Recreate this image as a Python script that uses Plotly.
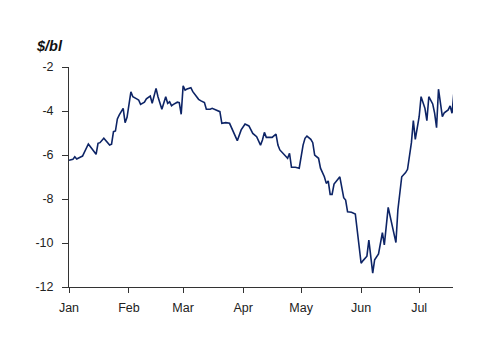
import pandas as pd
import plotly.graph_objects as go

# Day offsets from 1 Jan 2019 and values ($/bl)
day_offsets = [0, 2, 3, 4, 6, 7, 10, 12, 14, 15, 16, 18, 19, 21, 22, 23, 24, 25, 26, 28, 29, 30,
               32, 33, 35, 36, 37, 39, 40, 42, 43, 45, 46, 48, 50, 51, 52, 53, 54, 56, 57, 58,
               59, 60, 61, 63, 64, 65, 67, 68, 70, 71, 73, 74, 76, 78, 79, 81, 83, 85, 87, 89,
               91, 93, 95, 97, 99, 100, 101, 102, 105, 107, 108, 109, 111, 113, 114, 115, 117, 119,
               121, 122, 123, 125, 126, 127, 129, 130, 132, 133, 134, 135, 136, 137, 139, 140, 142,
               143, 144, 146, 148, 149, 151, 152, 154, 155, 156, 157, 158, 159, 160, 162, 163, 165,
               167, 169, 170, 171, 172, 174, 175, 177, 178, 179, 181, 182, 184, 185, 186, 188, 189,
               190, 191, 193, 194, 196, 197, 198, 199]
values = [-6.24, -6.2, -6.08, -6.18, -6.09, -6.05, -5.5, -5.73, -5.97, -5.47, -5.44, -5.24, -5.36,
          -5.55, -5.51, -4.94, -4.91, -4.36, -4.18, -3.88, -4.53, -4.29,
          -3.13, -3.35, -3.45, -3.5, -3.7, -3.6, -3.45, -3.32, -3.65, -2.97, -3.35, -3.92, -3.35,
          -3.65, -3.58, -3.76, -3.7, -3.6, -3.62, -4.15,
          -2.85, -3.05, -3.0, -2.94, -3.12, -3.25, -3.47, -3.53, -3.62, -3.92, -3.92, -3.88, -3.95,
          -4.03, -4.56, -4.53, -4.56, -4.94, -5.35, -4.86,
          -4.59, -4.68, -5.02, -5.17, -5.55, -5.32, -4.97, -5.2, -5.2, -5.05, -5.55, -5.77, -5.97,
          -6.15, -5.92, -6.56, -6.56, -6.6,
          -5.55, -5.24, -5.14, -5.29, -5.44, -6.0, -6.15, -6.6, -6.99, -7.29, -7.18, -7.79, -7.79,
          -7.32, -7.1, -6.99, -7.94,
          -8.05, -8.58, -8.6, -8.68, -9.41, -10.92, -10.8, -10.6, -9.87, -10.77, -11.37, -10.76,
          -10.65, -10.5, -9.53, -10.09, -8.38,
          -9.11, -9.98, -8.5, -7.59, -6.99, -6.8, -6.65, -5.44, -4.44, -5.29, -4.26, -3.35, -3.88,
          -4.44, -3.35, -3.68, -4.1,
          -4.76, -3.01, -4.26, -4.08, -3.95, -3.77, -4.1, -3.12]

month_ticks = ["2019-01-01", "2019-02-01", "2019-03-01", "2019-04-01",
               "2019-05-01", "2019-06-01", "2019-07-01"]
month_labels = ["Jan", "Feb", "Mar", "Apr", "May", "Jun", "Jul"]
y_ticks = [-12, -10, -8, -6, -4, -2]
y_labels = ["-12", "-10", "-8", "-6", "-4", "-2"]

start = pd.Timestamp("2019-01-01")
dates = [start + pd.Timedelta(days=d) for d in day_offsets]

fig = go.Figure()
fig.add_trace(go.Scatter(x=dates, y=values, mode="lines",
                         line=dict(color="#0d2466", width=1.6), hoverinfo="skip"))

axis_font = dict(family="Liberation Sans, Arial, sans-serif", size=12.5, color="#222222")

fig.update_layout(
    width=500, height=353,
    margin=dict(l=69, r=47, t=67, b=66),
    paper_bgcolor="white", plot_bgcolor="white",
    showlegend=False,
    xaxis=dict(range=[start, start + pd.Timedelta(days=198.5)],
               tickvals=month_ticks, ticktext=month_labels,
               showline=True, linecolor="#333333", linewidth=1,
               ticks="outside", ticklen=5, tickcolor="#333333",
               ticklabelstandoff=4,
               showgrid=False, zeroline=False, tickfont=axis_font),
    yaxis=dict(range=[-12, -2], tickvals=y_ticks, ticktext=y_labels,
               showline=True, linecolor="#333333", linewidth=1,
               ticks="outside", ticklen=6, tickcolor="#333333",
               ticklabelstandoff=6,
               showgrid=False, zeroline=False, tickfont=axis_font),
    annotations=[dict(text="<b><i>$/bl</i></b>", xref="paper", yref="paper",
                      x=-0.092, y=1.097, xanchor="left", yanchor="middle",
                      showarrow=False,
                      font=dict(family="Liberation Sans, Arial, sans-serif", size=14.5,
                                color="#111111"))],
)

fig.write_html("out.html")
